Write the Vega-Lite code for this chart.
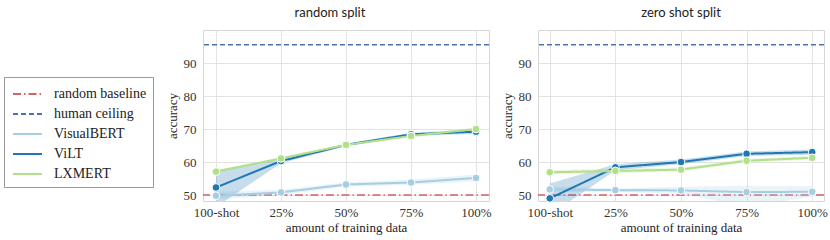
{
  "$schema": "https://vega.github.io/schema/vega-lite/v6.json",
  "background": "white",
  "padding": {"left": 3, "top": 6, "right": 0, "bottom": 3},
  "bounds": "flush",
  "spacing": 49,
  "datasets": {
    "models": [
      {"split": "random", "series": "VisualBERT", "x": "100-shot", "acc": 49.8, "lo": 48.7, "hi": 51.0},
      {"split": "random", "series": "VisualBERT", "x": "25%", "acc": 50.8, "lo": 50.0, "hi": 51.6},
      {"split": "random", "series": "VisualBERT", "x": "50%", "acc": 53.2, "lo": 52.5, "hi": 53.9},
      {"split": "random", "series": "VisualBERT", "x": "75%", "acc": 53.8, "lo": 53.1, "hi": 54.6},
      {"split": "random", "series": "VisualBERT", "x": "100%", "acc": 55.2, "lo": 54.2, "hi": 56.2},
      {"split": "random", "series": "ViLT", "x": "100-shot", "acc": 52.3, "lo": 46.4, "hi": 57.5},
      {"split": "random", "series": "ViLT", "x": "25%", "acc": 60.3, "lo": 59.6, "hi": 61.0},
      {"split": "random", "series": "ViLT", "x": "50%", "acc": 65.2, "lo": 64.8, "hi": 65.6},
      {"split": "random", "series": "ViLT", "x": "75%", "acc": 68.4, "lo": 67.9, "hi": 68.9},
      {"split": "random", "series": "ViLT", "x": "100%", "acc": 69.2, "lo": 68.5, "hi": 69.9},
      {"split": "random", "series": "LXMERT", "x": "100-shot", "acc": 57.1, "lo": 56.6, "hi": 57.6},
      {"split": "random", "series": "LXMERT", "x": "25%", "acc": 61.1, "lo": 60.7, "hi": 61.5},
      {"split": "random", "series": "LXMERT", "x": "50%", "acc": 65.2, "lo": 64.9, "hi": 65.5},
      {"split": "random", "series": "LXMERT", "x": "75%", "acc": 67.9, "lo": 67.5, "hi": 68.3},
      {"split": "random", "series": "LXMERT", "x": "100%", "acc": 70.0, "lo": 69.6, "hi": 70.4},
      {"split": "zero", "series": "VisualBERT", "x": "100-shot", "acc": 51.7, "lo": 50.8, "hi": 52.6},
      {"split": "zero", "series": "VisualBERT", "x": "25%", "acc": 51.5, "lo": 51.0, "hi": 52.1},
      {"split": "zero", "series": "VisualBERT", "x": "50%", "acc": 51.4, "lo": 50.3, "hi": 52.5},
      {"split": "zero", "series": "VisualBERT", "x": "75%", "acc": 50.9, "lo": 46.5, "hi": 52.8},
      {"split": "zero", "series": "VisualBERT", "x": "100%", "acc": 51.0, "lo": 49.5, "hi": 52.7},
      {"split": "zero", "series": "ViLT", "x": "100-shot", "acc": 49.0, "lo": 44.0, "hi": 53.5},
      {"split": "zero", "series": "ViLT", "x": "25%", "acc": 58.4, "lo": 57.5, "hi": 59.3},
      {"split": "zero", "series": "ViLT", "x": "50%", "acc": 60.0, "lo": 59.3, "hi": 60.8},
      {"split": "zero", "series": "ViLT", "x": "75%", "acc": 62.5, "lo": 61.8, "hi": 63.2},
      {"split": "zero", "series": "ViLT", "x": "100%", "acc": 63.0, "lo": 62.2, "hi": 63.8},
      {"split": "zero", "series": "LXMERT", "x": "100-shot", "acc": 56.9, "lo": 56.3, "hi": 57.6},
      {"split": "zero", "series": "LXMERT", "x": "25%", "acc": 57.3, "lo": 56.6, "hi": 58.0},
      {"split": "zero", "series": "LXMERT", "x": "50%", "acc": 57.7, "lo": 57.1, "hi": 58.4},
      {"split": "zero", "series": "LXMERT", "x": "75%", "acc": 60.4, "lo": 59.8, "hi": 61.0},
      {"split": "zero", "series": "LXMERT", "x": "100%", "acc": 61.3, "lo": 60.7, "hi": 61.9}
    ],
    "refs": [
      {"series": "random baseline", "acc": 50},
      {"series": "human ceiling", "acc": 95.5}
    ]
  },
  "hconcat": [
    {
      "width": 286,
      "height": 171,
      "title": {"text": "random split", "dx": -16},
      "layer": [
        {
          "data": {"name": "refs"},
          "mark": {"type": "rule", "strokeWidth": 1.5},
          "encoding": {
            "y": {"field": "acc", "type": "quantitative", "title": "accuracy", "scale": {"domain": [48.2, 100], "nice": false, "zero": false}, "axis": {"values": [50, 60, 70, 80, 90]}},
            "color": {"field": "series", "type": "nominal", "title": null, "scale": {"domain": ["random baseline", "human ceiling", "VisualBERT", "ViLT", "LXMERT"], "range": ["#cf6366", "#4c72b0", "#a6cee3", "#1f78b4", "#b2df8a"]}, "legend": {"orient": "none", "legendX": -199, "legendY": 47, "symbolType": "M-0.8,0H2.1"}},
            "strokeDash": {"field": "series", "type": "nominal", "title": null, "scale": {"domain": ["random baseline", "human ceiling", "VisualBERT", "ViLT", "LXMERT"], "range": [[8, 3, 1.5, 3], [5, 3], [1, 0], [1, 0], [1, 0]]}, "legend": {"orient": "none", "legendX": -199, "legendY": 47, "symbolType": "M-0.8,0H2.1"}}
          }
        },
        {
          "data": {"name": "models"},
          "transform": [{"filter": "datum.split === 'random'"}],
          "mark": {"type": "area", "fillOpacity": 0.25, "clip": true},
          "encoding": {
            "x": {"field": "x", "type": "ordinal", "sort": ["100-shot", "25%", "50%", "75%", "100%"], "scale": {"type": "point", "padding": 0.2}, "title": "amount of training data"},
            "y": {"field": "lo", "type": "quantitative", "title": "accuracy"},
            "y2": {"field": "hi"},
            "fill": {"field": "series", "type": "nominal", "title": null, "legend": null, "scale": {"domain": ["random baseline", "human ceiling", "VisualBERT", "ViLT", "LXMERT"], "range": ["#cf6366", "#4c72b0", "#a6cee3", "#1f78b4", "#b2df8a"]}}
          }
        },
        {
          "data": {"name": "models"},
          "transform": [{"filter": "datum.split === 'random'"}],
          "mark": {"type": "line", "strokeWidth": 2},
          "encoding": {
            "x": {"field": "x", "type": "ordinal", "sort": ["100-shot", "25%", "50%", "75%", "100%"], "title": "amount of training data"},
            "y": {"field": "acc", "type": "quantitative", "title": "accuracy"},
            "color": {"field": "series", "type": "nominal", "title": null},
            "strokeDash": {"field": "series", "type": "nominal", "title": null}
          }
        },
        {
          "data": {"name": "models"},
          "transform": [{"filter": "datum.split === 'random'"}],
          "mark": {"type": "point", "filled": true, "size": 60, "opacity": 1, "stroke": "white", "strokeWidth": 1},
          "encoding": {
            "x": {"field": "x", "type": "ordinal", "sort": ["100-shot", "25%", "50%", "75%", "100%"], "title": "amount of training data"},
            "y": {"field": "acc", "type": "quantitative", "title": "accuracy"},
            "fill": {"field": "series", "type": "nominal", "title": null, "legend": null}
          }
        }
      ]
    },
    {
      "width": 286,
      "height": 171,
      "title": {"text": "zero shot split"},
      "layer": [
        {
          "data": {"name": "refs"},
          "mark": {"type": "rule", "strokeWidth": 1.5},
          "encoding": {
            "y": {"field": "acc", "type": "quantitative", "title": "accuracy", "scale": {"domain": [48.2, 100], "nice": false, "zero": false}, "axis": {"values": [50, 60, 70, 80, 90]}},
            "color": {"field": "series", "type": "nominal", "title": null},
            "strokeDash": {"field": "series", "type": "nominal", "title": null}
          }
        },
        {
          "data": {"name": "models"},
          "transform": [{"filter": "datum.split === 'zero'"}],
          "mark": {"type": "area", "fillOpacity": 0.25, "clip": true},
          "encoding": {
            "x": {"field": "x", "type": "ordinal", "sort": ["100-shot", "25%", "50%", "75%", "100%"], "scale": {"type": "point", "padding": 0.18}, "title": "amount of training data"},
            "y": {"field": "lo", "type": "quantitative", "title": "accuracy"},
            "y2": {"field": "hi"},
            "fill": {"field": "series", "type": "nominal", "title": null, "legend": null}
          }
        },
        {
          "data": {"name": "models"},
          "transform": [{"filter": "datum.split === 'zero'"}],
          "mark": {"type": "line", "strokeWidth": 2},
          "encoding": {
            "x": {"field": "x", "type": "ordinal", "sort": ["100-shot", "25%", "50%", "75%", "100%"], "title": "amount of training data"},
            "y": {"field": "acc", "type": "quantitative", "title": "accuracy"},
            "color": {"field": "series", "type": "nominal", "title": null},
            "strokeDash": {"field": "series", "type": "nominal", "title": null}
          }
        },
        {
          "data": {"name": "models"},
          "transform": [{"filter": "datum.split === 'zero'"}],
          "mark": {"type": "point", "filled": true, "size": 60, "opacity": 1, "stroke": "white", "strokeWidth": 1},
          "encoding": {
            "x": {"field": "x", "type": "ordinal", "sort": ["100-shot", "25%", "50%", "75%", "100%"], "title": "amount of training data"},
            "y": {"field": "acc", "type": "quantitative", "title": "accuracy"},
            "fill": {"field": "series", "type": "nominal", "title": null, "legend": null}
          }
        }
      ]
    }
  ],
  "resolve": {"scale": {"color": "shared", "strokeDash": "shared", "fill": "shared"}, "legend": {"color": "shared", "strokeDash": "shared"}},
  "config": {
    "view": {"stroke": "#d6d6d6", "strokeWidth": 1},
    "title": {"font": "Lato", "fontSize": 13, "fontWeight": "normal", "color": "#222", "offset": 10},
    "axis": {
      "labelFont": "Liberation Serif", "labelFontSize": 13, "labelColor": "#333",
      "titleFont": "Liberation Serif", "titleFontSize": 13, "titleFontWeight": "normal", "titleColor": "#222",
      "grid": true, "gridColor": "#e3e3e3", "gridWidth": 1, "ticks": false, "domain": false
    },
    "axisX": {"labelAngle": 0, "labelPadding": 5, "titlePadding": 2},
    "axisY": {"labelPadding": 7, "titlePadding": 4},
    "legend": {
      "symbolSize": 400, "symbolStrokeWidth": 2,
      "labelFont": "Liberation Serif", "labelFontSize": 14, "labelColor": "#222",
      "labelOffset": 22, "strokeColor": "#999", "fillColor": "white", "padding": 6, "rowPadding": 2
    }
  }
}
